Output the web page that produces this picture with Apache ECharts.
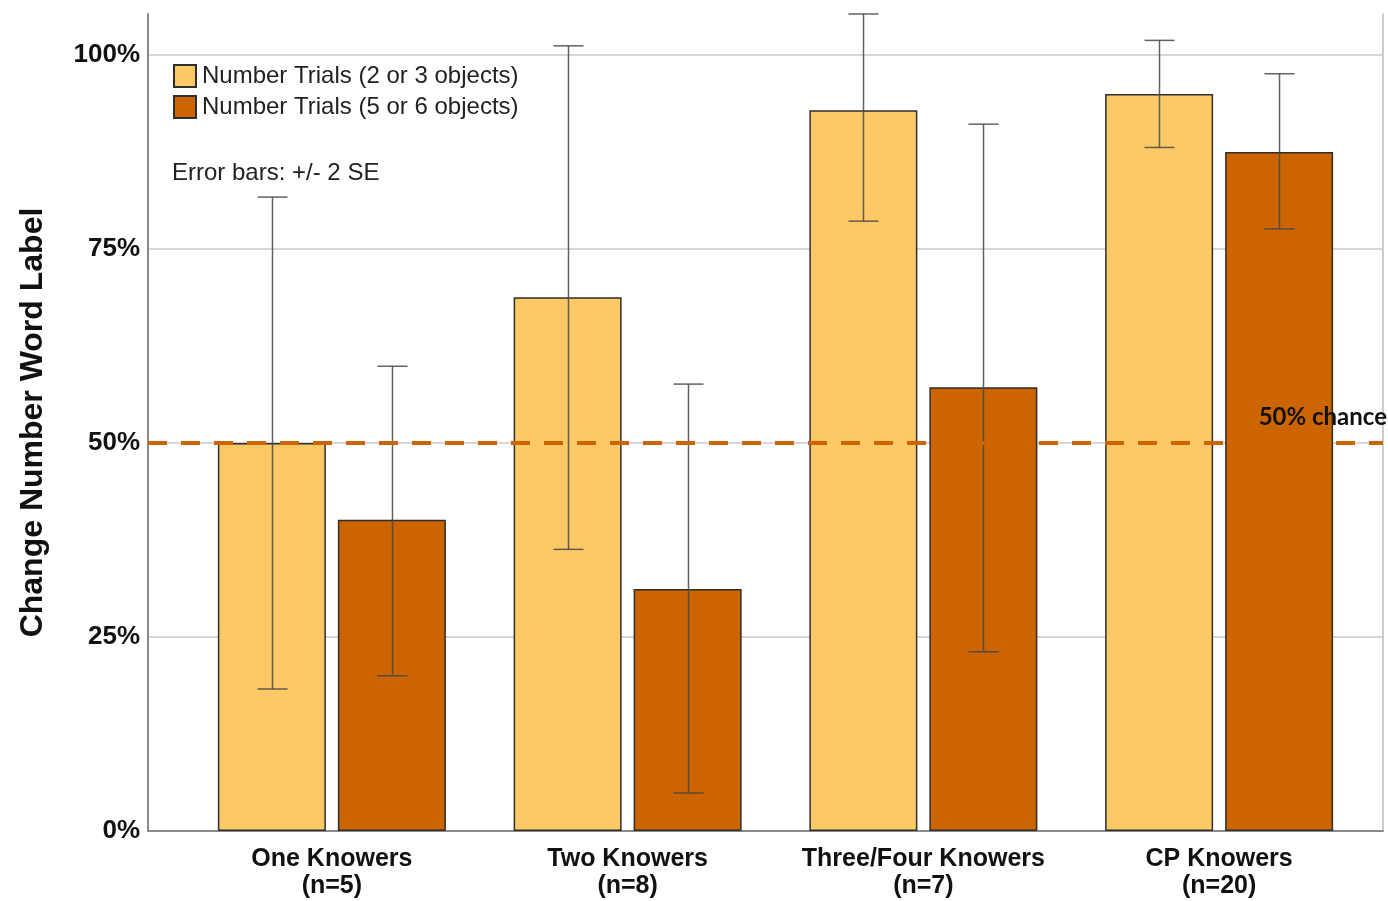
<!DOCTYPE html>
<html>
<head>
<meta charset="utf-8">
<script src="https://cdn.jsdelivr.net/npm/echarts@6/dist/echarts.min.js"></script>
<style>
html,body{margin:0;padding:0;background:#fff;}
#chart{width:1388px;height:901px;}
</style>
</head>
<body>
<div id="chart"></div>
<script>
// ---- data ----
var categories = ['One Knowers\n(n=5)', 'Two Knowers\n(n=8)', 'Three/Four Knowers\n(n=7)', 'CP Knowers\n(n=20)'];
var seriesNames = ['Number Trials (2 or 3 objects)', 'Number Trials (5 or 6 objects)'];
var smallSetValues = [50.0, 68.8, 92.9, 95.0];
var smallSetLow    = [18.3, 36.3, 78.6, 88.1];
var smallSetHigh   = [81.7, 101.2, 105.3, 101.9];
var largeSetValues = [40.1, 31.2, 57.2, 87.5];
var largeSetLow    = [20.0, 4.9, 23.1, 77.6];
var largeSetHigh   = [59.9, 57.6, 91.1, 97.6];
var yTicks = [0, 25, 50, 75, 100];
var yMax = 105.3;
var chanceLevel = 50;
var chanceLabel = '50% chance';
var errorNote = 'Error bars: +/- 2 SE';
var yTitle = 'Change Number Word Label';

// ---- styling ----
var colYellow = '#fdc967';
var colOrange = '#cc6400';
var barWidth = 108;
var barGapPx = 12;
var capWidth = 30;

var chart = echarts.init(document.getElementById('chart'), null, {renderer: 'canvas'});

function errorSeries(low, high, slot) {
  var data = low.map(function (l, i) { return [i, l, high[i]]; });
  return {
    type: 'custom',
    xAxisIndex: 1, yAxisIndex: 1,
    z: 4,
    silent: true,
    data: data,
    renderItem: function (params, api) {
      var off = slot * (barWidth + barGapPx) / 2;
      var lo = api.coord([api.value(0), api.value(1)]);
      var hi = api.coord([api.value(0), api.value(2)]);
      var x = Math.round(lo[0] + off) + 0.5;
      var style = {stroke: 'rgba(70,70,70,0.85)', lineWidth: 1.5};
      return {
        type: 'group',
        children: [
          {type: 'line', shape: {x1: x, y1: hi[1], x2: x, y2: lo[1]}, style: style},
          {type: 'line', shape: {x1: x - capWidth / 2, y1: hi[1], x2: x + capWidth / 2, y2: hi[1]}, style: style},
          {type: 'line', shape: {x1: x - capWidth / 2, y1: lo[1], x2: x + capWidth / 2, y2: lo[1]}, style: style}
        ]
      };
    }
  };
}

var option = {
  animation: false,
  backgroundColor: '#fff',
  grid: [
    {left: 148, right: 5, top: 14, bottom: 70, outerBoundsMode: 'none', containLabel: false},
    {left: 184, right: 21, top: 14, bottom: 70, outerBoundsMode: 'none', containLabel: false}
  ],
  legend: {
    left: 168, top: 59,
    orient: 'vertical',
    itemWidth: 22, itemHeight: 22, itemGap: 7,
    icon: 'rect',
    selectedMode: false,
    data: seriesNames,
    textStyle: {fontFamily: 'Liberation Sans, Arial, sans-serif', fontSize: 24, color: '#222', padding: [0, 0, 0, 1]}
  },
  graphic: [
    {type: 'text', left: 172, top: 161, style: {text: errorNote, font: '24px "Liberation Sans", Arial, sans-serif', fill: '#222'}}
  ],
  xAxis: [
    {gridIndex: 0, type: 'value', min: 0, max: 1, axisLabel: {show: false}, axisTick: {show: false}, splitLine: {show: false},
     axisLine: {show: true, lineStyle: {color: '#8a8a8a', width: 2}}},
    {gridIndex: 1, type: 'category', data: categories, axisLine: {show: false}, axisTick: {show: false},
     axisLabel: {interval: 0, margin: 15, fontFamily: 'Liberation Sans, Arial, sans-serif', fontWeight: 'bold', fontSize: 25, lineHeight: 27, color: '#111'}}
  ],
  yAxis: [
    {gridIndex: 0, type: 'value', min: 0, max: yMax, interval: 25,
     axisLine: {show: true, lineStyle: {color: '#8a8a8a', width: 2}},
     axisTick: {show: false},
     axisLabel: {showMaxLabel: false, margin: 8, padding: [6, 0, 0, 0], fontFamily: 'Liberation Sans, Arial, sans-serif', fontWeight: 'bold', fontSize: 26, color: '#111',
       formatter: function (v) { return yTicks.indexOf(v) >= 0 ? v + '%' : ''; }},
     splitLine: {show: true, showMaxLine: false, showMinLine: false, lineStyle: {color: '#d6d6d6', width: 2}},
     name: yTitle, nameLocation: 'middle', nameGap: 99,
     nameTextStyle: {fontFamily: 'Liberation Sans, Arial, sans-serif', fontWeight: 'bold', fontSize: 32, color: '#111'}},
    {gridIndex: 1, type: 'value', min: 0, max: yMax, show: false},
    {gridIndex: 0, type: 'value', min: 0, max: yMax, position: 'right', axisLabel: {show: false}, axisTick: {show: false}, splitLine: {show: false},
     axisLine: {show: true, lineStyle: {color: '#bdbdbd', width: 1.5}}}
  ],
  series: [
    {name: seriesNames[0], type: 'bar', xAxisIndex: 1, yAxisIndex: 1, data: smallSetValues,
     barWidth: barWidth, barGap: (barGapPx / barWidth * 100) + '%', z: 2,
     itemStyle: {color: colYellow, borderColor: '#2e2e2e', borderWidth: 1.5}},
    {name: seriesNames[1], type: 'bar', xAxisIndex: 1, yAxisIndex: 1, data: largeSetValues,
     barWidth: barWidth, z: 2,
     itemStyle: {color: colOrange, borderColor: '#2e2e2e', borderWidth: 1.5}},
    errorSeries(smallSetLow, smallSetHigh, -1),
    errorSeries(largeSetLow, largeSetHigh, 1),
    {type: 'line', xAxisIndex: 0, yAxisIndex: 0, data: [], z: 5, silent: true,
     markLine: {
       silent: true, symbol: 'none', animation: false,
       lineStyle: {color: colOrange, width: 4, type: [19, 14]},
       label: {show: true, position: 'insideEndTop', formatter: chanceLabel, distance: [-4, 14],
         fontFamily: 'Lato, "Liberation Sans", sans-serif', fontWeight: 'bold', fontSize: 24, color: '#111'},
       data: [{yAxis: chanceLevel}]
     }}
  ]
};
chart.setOption(option);
</script>
</body>
</html>
